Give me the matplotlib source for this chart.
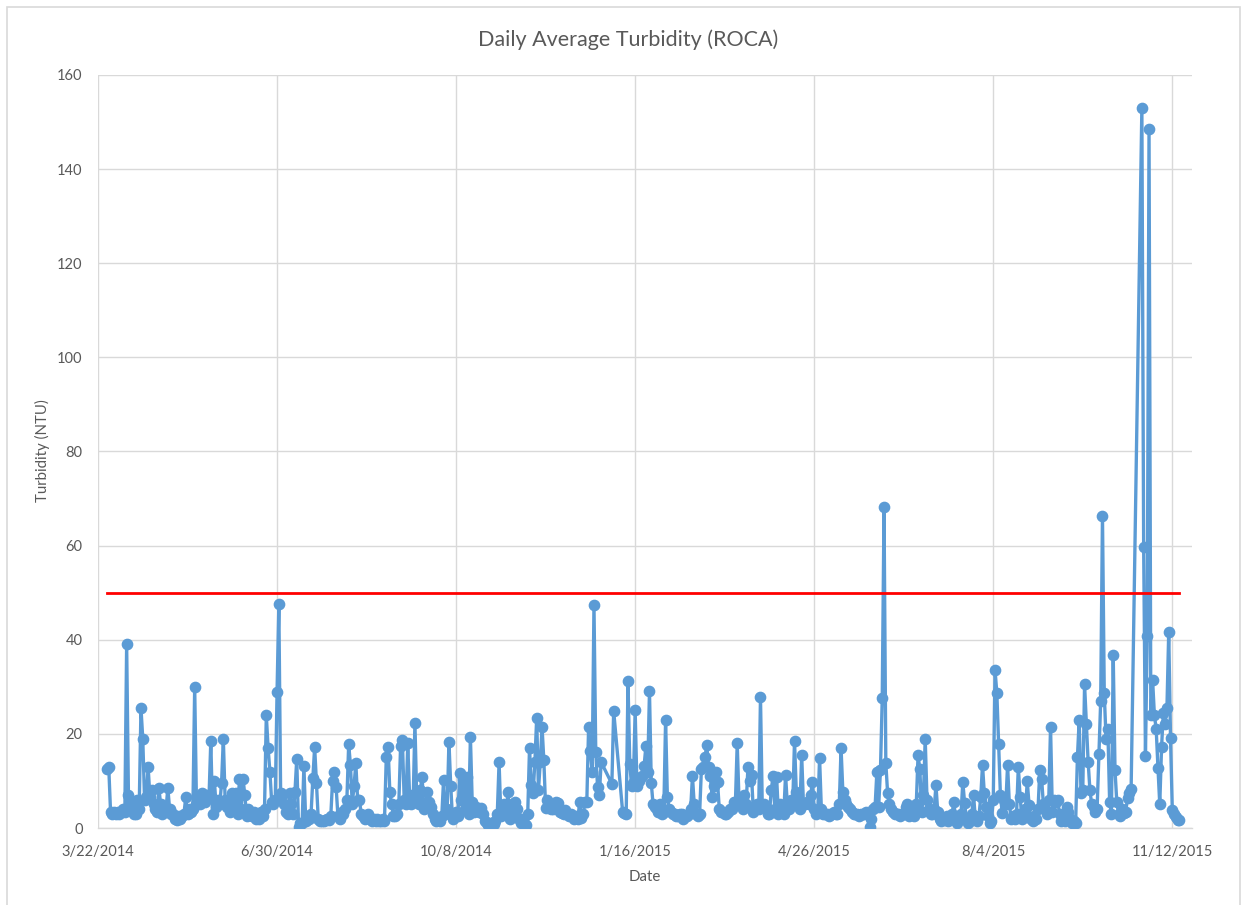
import numpy as np
import pandas as pd
import matplotlib
matplotlib.use("Agg")
import matplotlib.pyplot as plt
from matplotlib.patches import Rectangle

nan = np.nan

# Daily average turbidity (NTU) at ROCA, one list per calendar month.
# Each month's list starts on the date given in month_starts; nan = no reading.
turb_2014_03 = [12.5, 13.0, 3.5, 3.0, 3.5]
turb_2014_04 = [3.0, 3.5, 3.0, 3.5, 4.0, 3.5, 39.0, 7.0, 5.5, 4.5,
                3.0, 3.0, 6.0, 4.0, 25.5, 19.0, 6.0, 6.5, 13.0, 6.5,
                8.0, 5.0, 4.0, 3.5, 8.5, 5.0, 3.0, 3.5, 4.0, 8.5]
turb_2014_05 = [4.0, 3.0, 3.0, 2.0, 1.7, 2.5, 2.0, 2.5, 3.0, 6.5,
                3.0, 4.0, 3.5, 4.0, 30.0, 5.0, 6.0, 5.0, 7.5, 6.0,
                5.5, 7.0, 6.5, 18.5, 3.0, 10.0, 4.5, 6.0, 5.0, 9.5,
                19.0]
turb_2014_06 = [6.0, 4.5, 5.0, 3.5, 7.5, 5.0, 7.5, 3.0, 10.5, 4.0,
                10.5, 7.0, 2.5, 4.0, 3.0, 2.5, 3.5, 2.0, 3.0, 2.0,
                3.5, 2.5, 4.0, 24.0, 17.0, 12.0, 5.5, 5.0, 6.0, 29.0]
turb_2014_07 = [47.5, 7.5, 7.0, 5.0, 3.5, 3.0, 7.5, 5.0, 3.0, 7.7,
                14.7, 0.3, 1.0, 1.0, 13.2, 1.5, 2.5, 2.0, 3.0, 10.6,
                17.2, 9.6, 2.0, 1.5, 1.5, 1.5, 1.8, 2.0, 1.8, 2.5,
                10.0]
turb_2014_08 = [12.0, 8.7, 2.5, 2.0, 3.5, 3.0, 4.0, 6.0, 17.8, 13.4,
                5.0, 9.0, 13.8, 6.0, 6.0, 3.0, 2.5, 2.0, 2.5, 3.0,
                2.0, 1.5, 2.0, 1.5, 2.0, 1.5, 1.5, 2.0, 1.5, 15.0,
                17.3]
turb_2014_09 = [7.6, 5.0, 2.5, 2.5, 3.0, 5.0, 17.5, 18.7, 6.0, 5.0,
                18.0, 7.0, 5.0, 5.5, 22.3, 6.5, 5.0, 8.0, 10.9, 4.0,
                5.0, 7.7, 5.5, 4.5, 3.0, 2.0, 1.5, 2.0, 1.5, 2.5]
turb_2014_10 = [10.2, 3.0, 4.0, 18.3, 9.0, 2.0, 2.5, 3.5, 2.5, 11.7,
                6.0, 10.5, 4.0, 10.9, 3.0, 19.3, 5.5, 3.5, 4.5, 4.0,
                3.5, 4.2, 3.0, 1.5, 1.0, 0.7, 1.0, 0.5, 0.8, 1.5,
                3.0]
turb_2014_11 = [14.0, 2.5, 4.0, 5.0, 3.0, 7.7, 2.0, 5.0, 3.0, 5.5,
                4.0, 2.0, 1.0, 2.0, 1.0, 0.6, 3.0, 17.0, 9.1, 7.4,
                14.0, 23.4, 8.0, 14.0, 21.5, 14.4, 4.2, 6.0, 5.0, 4.0]
turb_2014_12 = [4.0, 5.0, 5.5, 5.3, 3.5, 3.2, 3.0, 3.8, 3.0, 2.5,
                3.0, 2.5, 2.0, 2.5, 2.0, 5.5, 2.1, 3.0, 5.5, 5.5,
                21.5, 16.4, 12.0, 47.4, 16.2, 8.7, 7.0, 14.0]
turb_2015_01 = [nan, nan, 9.4, 24.9, nan, nan, nan, nan, 3.5, 3.2,
                3.0, 31.2, 13.6, 9.0, 9.5, 25.0, 9.0, 10.0, 10.9, 11.0,
                13.2, 17.4, 12.0, 29.1, 9.6, 5.0, 4.5, 4.0, 3.5, 5.0,
                3.0]
turb_2015_02 = [3.5, 23.0, 6.5, 4.0, 3.5, 3.0, 3.0, 2.5, 2.5, 3.0,
                3.0, 2.0, 2.5, 2.5, 3.0, 4.0, 11.0, 5.0, 3.0, 2.5,
                3.0, 12.5, 13.0, 15.0, 17.6, 13.0, 11.0, 6.6]
turb_2015_03 = [9.0, 12.0, 9.8, 4.0, 3.4, 3.5, 3.0, 3.0, 3.5, 4.0,
                4.0, 5.5, 5.5, 18.0, 6.0, 5.0, 4.0, 7.0, 5.0, 13.0,
                10.0, 11.3, 3.5, 4.0, 5.0, 4.0, 27.9, 4.5, 5.0, 4.5,
                3.0]
turb_2015_04 = [3.0, 8.0, 11.0, 4.0, 10.9, 3.0, 5.0, 4.0, 3.0, 11.3,
                5.0, 4.0, 6.0, 5.0, 18.5, 7.7, 5.0, 4.0, 15.5, 5.0,
                5.0, 5.5, 5.0, 7.0, 9.8, 4.0, 3.0, 3.5, 14.9, 4.0]
turb_2015_05 = [3.0, 3.0, 3.0, 2.5, 3.0, 3.0, 3.5, 3.0, 3.0, 5.0,
                17.0, 7.7, 6.0, 5.0, 4.5, 4.0, 3.5, 3.0, 3.0, 3.0,
                2.5, 3.0, 3.0, 3.0, 3.5, 3.0, 0.2, 2.0, 4.0, 4.5,
                11.9]
turb_2015_06 = [4.5, 12.3, 27.6, 68.2, 13.8, 7.4, 5.0, 4.0, 3.5, 3.0,
                3.0, 3.0, 2.5, 3.0, 3.0, 4.5, 5.0, 2.5, 3.0, 3.5,
                2.5, 5.0, 15.5, 12.5, 3.5, 7.0, 19.0, 6.0, 4.0, 3.0]
turb_2015_07 = [3.0, 4.0, 9.1, 3.4, 2.0, 1.5, 2.0, 1.7, 2.5, 1.5,
                2.0, 3.0, 5.5, 2.0, 1.0, 2.5, 3.0, 9.8, 5.3, 2.0,
                1.0, 1.5, 3.0, 7.0, 2.0, 1.5, 2.5, 6.5, 13.4, 7.4,
                4.5]
turb_2015_08 = [2.5, 1.0, 1.5, 6.0, 33.6, 28.7, 17.8, 7.0, 3.2, 6.0,
                5.0, 13.4, 5.0, 2.0, 2.5, 2.0, 3.0, 13.0, 6.6, 2.0,
                3.0, 4.0, 10.0, 4.9, 2.0, 1.5, 2.5, 2.0, 4.0, 12.3,
                10.5]
turb_2015_09 = [5.0, 4.0, 3.0, 6.0, 21.5, 3.5, 6.0, 5.5, 6.0, 3.0,
                1.5, 2.0, 1.5, 4.5, 3.5, 2.0, 1.0, 1.5, 1.0, 15.0,
                23.0, 7.5, 8.0, 30.5, 22.0, 14.0, 8.0, 5.0, 4.5, 3.5]
turb_2015_10 = [4.0, 15.8, 27.0, 66.4, 28.6, 18.9, 21.0, 5.5, 3.0, 36.8,
                12.3, 5.5, 3.0, 2.5, 4.0, 3.2, 3.5, 6.4, 7.5, 8.3,
                nan, nan, nan, nan, nan, 153.0, 59.8, 15.3, 40.9, 148.5,
                24.0]
turb_2015_11 = [31.4, 24.0, 21.0, 12.7, 5.0, 17.2, 24.5, 22.0, 25.5, 41.7,
                19.1, 3.8, 3.0, 2.3, 1.8, 1.7]

month_starts = ["2014-03-27", "2014-04-01", "2014-05-01", "2014-06-01",
                "2014-07-01", "2014-08-01", "2014-09-01", "2014-10-01",
                "2014-11-01", "2014-12-01", "2015-01-01", "2015-02-01",
                "2015-03-01", "2015-04-01", "2015-05-01", "2015-06-01",
                "2015-07-01", "2015-08-01", "2015-09-01", "2015-10-01",
                "2015-11-01"]
monthly_values = [turb_2014_03, turb_2014_04, turb_2014_05, turb_2014_06,
                  turb_2014_07, turb_2014_08, turb_2014_09, turb_2014_10,
                  turb_2014_11, turb_2014_12, turb_2015_01, turb_2015_02,
                  turb_2015_03, turb_2015_04, turb_2015_05, turb_2015_06,
                  turb_2015_07, turb_2015_08, turb_2015_09, turb_2015_10,
                  turb_2015_11]

turbidity_limit = 50.0  # NTU threshold

x_tick_labels = ["3/22/2014", "6/30/2014", "10/8/2014", "1/16/2015",
                 "4/26/2015", "8/4/2015", "11/12/2015"]
y_ticks = [0, 20, 40, 60, 80, 100, 120, 140, 160]
x_range = ["2014-03-22", "2015-11-23"]

# Assemble the daily series and drop missing days (line joins across gaps)
parts = []
for start, vals in zip(month_starts, monthly_values):
    idx = pd.date_range(start, periods=len(vals), freq="D")
    parts.append(pd.Series(vals, index=idx, dtype=float))
series = pd.concat(parts).dropna()

W, H = 1248, 905
fig = plt.figure(figsize=(W / 100, H / 100), dpi=100)
fig.patch.set_facecolor("white")

FONT = ["Lato", "DejaVu Sans"]
TXT = "#595959"
GRID = "#D9D9D9"

# chart frame
fig.add_artist(Rectangle((7 / W, -0.05), (1240 - 7) / W, 1.05 - 7 / H,
                         transform=fig.transFigure, fill=False,
                         edgecolor=GRID, lw=1.2))

left, right, top, bottom = 98, 1192, 75, 828
ax = fig.add_axes([left / W, 1 - bottom / H, (right - left) / W, (bottom - top) / H])

ax.plot(series.index, series.values, color="#5B9BD5", lw=2.4,
        marker="o", ms=7.4, mfc="#5B9BD5", mec="#5B9BD5", zorder=3)
ax.plot([series.index[0], series.index[-1]], [turbidity_limit, turbidity_limit],
        color="#FF0000", lw=2.0, zorder=4)

xt = pd.to_datetime(x_tick_labels, format="%m/%d/%Y")
ax.set_xticks(xt)
ax.set_xticklabels(x_tick_labels, fontfamily=FONT)
ax.set_xlim(pd.Timestamp(x_range[0]), pd.Timestamp(x_range[1]))
ax.set_yticks(y_ticks)
ax.set_yticklabels([str(v) for v in y_ticks], fontfamily=FONT)
ax.set_ylim(0, 160)

ax.grid(True, color=GRID, lw=1.0, zorder=0)
ax.set_axisbelow(True)
for s in ["left", "right", "top"]:
    ax.spines[s].set_visible(False)
ax.spines["bottom"].set_color(GRID)
ax.spines["bottom"].set_linewidth(1.0)
ax.tick_params(axis="both", length=0, labelsize=10.5, colors=TXT)
ax.tick_params(axis="x", pad=12)
ax.tick_params(axis="y", pad=11)

fig.text(628 / W, 1 - 40 / H, "Daily Average Turbidity (ROCA)", ha="center",
         va="center", fontsize=15.5, color=TXT, fontfamily=FONT)
fig.text(645 / W, 1 - 877 / H, "Date", ha="center", va="center",
         fontsize=10.8, color=TXT, fontfamily=FONT)
fig.text(42 / W, 1 - 451 / H, "Turbidity (NTU)", ha="center", va="center",
         rotation=90, fontsize=10.8, color=TXT, fontfamily=FONT)

fig.savefig("out.png", dpi=100, facecolor="white")
